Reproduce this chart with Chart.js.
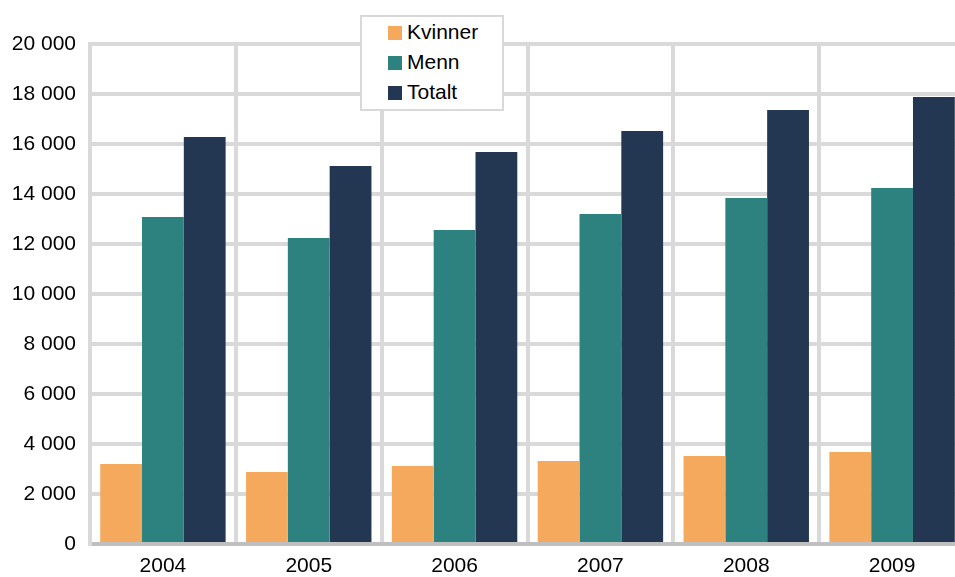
<!DOCTYPE html>
<html lang="no">
<head>
    <meta charset="UTF-8">
    <title>Kvinner, menn og totalt 2004-2009</title>
    <script src="https://cdn.jsdelivr.net/npm/chart.js@4"></script>
    <style>
        html, body {
            margin: 0;
            padding: 0;
            background: #ffffff;
            overflow: hidden;
            font-family: "Liberation Sans", Arial, sans-serif;
        }
        .wrap {
            position: relative;
            width: 965px;
            height: 577px;
        }
        .legend {
            position: absolute;
            left: 360px;
            top: 15px;
            width: 140px;
            height: 92px;
            background: #ffffff;
            border: 2px solid #d9d9d9;
            font-size: 21px;
            color: #000;
        }
        .legend div {
            position: absolute;
            left: 26px;
            height: 24px;
            line-height: 24px;
            white-space: nowrap;
        }
        .legend span {
            display: inline-block;
            width: 14px;
            height: 14px;
            margin-right: 5px;
            vertical-align: -1px;
        }
    </style>
</head>
<body>
    <div class="wrap">
        <canvas id="chart" width="965" height="577"></canvas>
        <div class="legend" id="legend"></div>
    </div>

    <script>
        // Data
        const years = ['2004', '2005', '2006', '2007', '2008', '2009'];
        const kvinner = [3200, 2880, 3120, 3320, 3520, 3680];
        const menn = [13080, 12240, 12560, 13200, 13840, 14240];
        const totalt = [16280, 15120, 15680, 16520, 17360, 17880];
        const yTicks = [0, 2000, 4000, 6000, 8000, 10000, 12000, 14000, 16000, 18000, 20000];

        const series = [
            { label: 'Kvinner', data: kvinner, color: '#f5a95d' },
            { label: 'Menn', data: menn, color: '#2d8280' },
            { label: 'Totalt', data: totalt, color: '#243752' }
        ];

        const fmt = v => String(v).replace(/\B(?=(\d{3})+(?!\d))/g, ' ');

        // HTML legend
        const legendEl = document.getElementById('legend');
        series.forEach((s, i) => {
            const row = document.createElement('div');
            row.style.top = (3 + i * 30) + 'px';
            row.innerHTML = '<span style="background:' + s.color + '"></span>' + s.label;
            legendEl.appendChild(row);
        });

        Chart.defaults.font.family = '"Liberation Sans", Arial, sans-serif';
        Chart.defaults.font.size = 21;
        Chart.defaults.color = '#000000';

        new Chart(document.getElementById('chart').getContext('2d'), {
            type: 'bar',
            data: {
                labels: years,
                datasets: series.map(s => ({
                    label: s.label,
                    data: s.data,
                    backgroundColor: s.color,
                    borderWidth: 0,
                    categoryPercentage: 0.86,
                    barPercentage: 1.0
                }))
            },
            options: {
                responsive: false,
                animation: false,
                layout: { padding: { top: 44, left: 0, right: 0, bottom: 0 } },
                plugins: {
                    legend: { display: false },
                    tooltip: { enabled: false }
                },
                scales: {
                    x: {
                        grid: {
                            offset: true,
                            color: '#d9d9d9',
                            lineWidth: 4,
                            drawTicks: false
                        },
                        border: { color: '#bfbfbf', width: 4 },
                        ticks: { padding: 10 },
                        afterFit: scale => { scale.height = 33; }
                    },
                    y: {
                        min: 0,
                        max: 20000,
                        afterBuildTicks: scale => {
                            scale.ticks = yTicks.map(v => ({ value: v }));
                        },
                        grid: {
                            color: '#d9d9d9',
                            lineWidth: 4,
                            drawTicks: false
                        },
                        border: { color: '#d9d9d9', width: 4 },
                        ticks: {
                            padding: 14,
                            callback: v => fmt(v)
                        },
                        afterFit: scale => { scale.width = 90; }
                    }
                }
            }
        });
    </script>
</body>
</html>
